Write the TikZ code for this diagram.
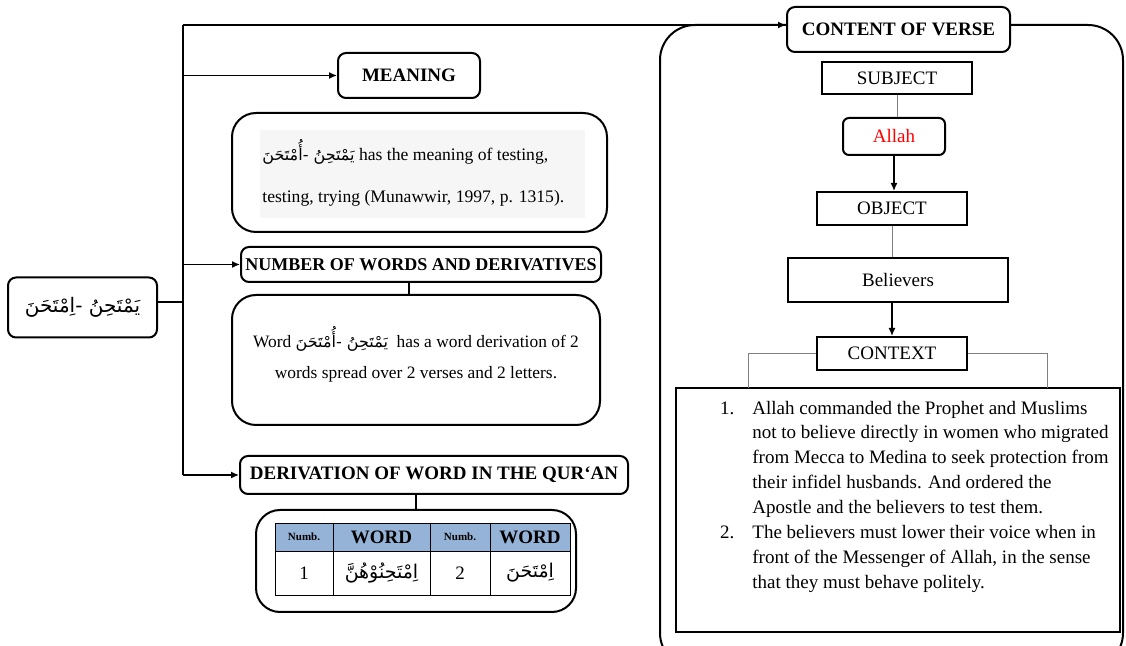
\documentclass[tikz,border=0pt]{standalone}
\usepackage{fontspec}
\setmainfont{Liberation Serif}
\newfontfamily\arabicfont[Script=Arabic]{DejaVu Sans}
\TeXXeTstate=1
\newcommand{\arw}[1]{{\arabicfont\beginR #1\endR}}
\usetikzlibrary{arrows.meta, positioning, calc}

\begin{document}
\begin{tikzpicture}[x=0.5pt, y=-0.5pt,
        every node/.style={align=center, inner sep=0pt, font=\fontsize{9.5}{12}\selectfont},
        headbox/.style={draw, line width=1pt, rounded corners=4pt, fill=white, font=\fontsize{9.5}{12}\selectfont\bfseries},
        bigbox/.style={draw, line width=1pt, rounded corners=12pt},
        plainbox/.style={draw, line width=1pt, fill=white},
        cell/.style={draw, line width=0.4pt},
        conn/.style={-{Latex[length=4pt,width=3.5pt]}, line width=0.7pt},
        grayline/.style={draw=gray, line width=0.5pt}
    ]
        \useasboundingbox (0,0) rectangle (1126,646);

        % left side
        \node[draw, line width=1pt, rounded corners=4pt, minimum width=74.5pt, minimum height=30pt] (root) at (82.5,307.5) {\fontsize{10}{12}\selectfont\arw{يَمْتَحِنُ -اِمْتَحَنَ}};
        \coordinate (ttop) at (183,25);
        \coordinate (tbot) at (183,475);
        \coordinate (tmid) at (183,302);
        \draw[line width=0.7pt] (ttop) -- (tbot);
        \draw[line width=0.7pt] (root.east |- tmid) -- (tmid);

        \node[headbox, minimum width=71pt, minimum height=22.5pt] (meaning) at (409,75.5) {MEANING};
        \node[bigbox, minimum width=187.5pt, minimum height=59.5pt] (meaningbox) at (419.5,172.5) {};
        \fill[gray!7] (260,130) rectangle (585,218);
        \node[anchor=base west, align=left, font=\fontsize{8.8}{21}\selectfont] (meaningtxt) at (262,203)
            {{\fontsize{8}{10}\selectfont\arw{يَمْتَحِنُ -أُمْتَحَنَ}} has the meaning of testing,\\testing, trying (Munawwir, 1997, p. 1315).};

        \node[headbox, minimum width=180pt, minimum height=17.5pt, font=\fontsize{9}{10}\selectfont\bfseries] (number) at (421,264.5) {NUMBER OF WORDS AND DERIVATIVES};
        \node[bigbox, minimum width=184pt, minimum height=65pt] (numberbox) at (416,360) {};
        \node[anchor=base, font=\fontsize{8.7}{15.5}\selectfont] (numbertxt) at (416,379)
            {Word {\fontsize{8}{10}\selectfont\arw{يَمْتَحِنُ -أُمْتَحَنَ}}\ \ has a word derivation of 2\\words spread over 2 verses and 2 letters.};
        \draw[line width=0.7pt] (number.south -| 409,0) -- (numberbox.north -| 409,0);

        \node[headbox, minimum width=194pt, minimum height=19pt] (derivation) at (434,475) {DERIVATION OF WORD IN THE QUR`AN};
        \node[bigbox, minimum width=160pt, minimum height=51pt] (tablebox) at (416,561) {};
        \draw[line width=0.7pt] (tablebox.north |- derivation.south) -- (tablebox.north);

        % table
        \node[cell, fill={rgb,255:red,149;green,179;blue,215}, minimum width=29pt, minimum height=14pt, font=\fontsize{5.5}{6}\selectfont\bfseries] (h1) at (304,537) {Numb.};
        \node[cell, fill={rgb,255:red,149;green,179;blue,215}, minimum width=48.5pt, minimum height=14pt, font=\fontsize{9.5}{11}\selectfont\bfseries] (h2) at (381.5,537) {WORD};
        \node[cell, fill={rgb,255:red,149;green,179;blue,215}, minimum width=30pt, minimum height=14pt, font=\fontsize{5.5}{6}\selectfont\bfseries] (h3) at (460,537) {Numb.};
        \node[cell, fill={rgb,255:red,149;green,179;blue,215}, minimum width=40pt, minimum height=14pt, font=\fontsize{9.5}{11}\selectfont\bfseries] (h4) at (530,537) {WORD};
        \node[cell, minimum width=29pt, minimum height=22pt] (c1) at (304,573) {1};
        \node[cell, minimum width=48.5pt, minimum height=22pt] (c2) at (381.5,573) {\arw{اِمْتَحِنُوْهُنَّ}};
        \node[cell, minimum width=30pt, minimum height=22pt] (c3) at (460,573) {2};
        \node[cell, minimum width=40pt, minimum height=22pt] (c4) at (530,573) {\arw{اِمْتَحَنَ}};

        \draw[conn] (meaning.west -| ttop) -- (meaning.west);
        \draw[conn] (number.west -| ttop) -- (number.west);
        \draw[conn] (tbot) -- (derivation.west);

        % right side
        \draw[line width=1pt, rounded corners=17.5pt] (660,25) rectangle (1123,668);
        \node[headbox, minimum width=111.5pt, minimum height=22.5pt] (verse) at (898.5,29.5) {CONTENT OF VERSE};
        \draw[conn] (ttop) -- (ttop -| verse.west);

        \node[plainbox, minimum width=75pt, minimum height=16pt] (subject) at (897,78) {SUBJECT};
        \node[draw, line width=1pt, rounded corners=3pt, minimum width=51pt, minimum height=18.5pt, text=red] (allah) at (894,136.5) {Allah};
        \node[plainbox, minimum width=75pt, minimum height=16.5pt] (object) at (892,208.5) {OBJECT};
        \node[plainbox, minimum width=110pt, minimum height=22pt] (believers) at (898,280) {Believers};
        \node[plainbox, minimum width=75pt, minimum height=16.5pt] (context) at (892,353.5) {CONTEXT};
        \node[plainbox, minimum width=222pt, minimum height=122pt] (listbox) at (898,510) {};

        \draw[grayline] (subject.south) -- (subject.south |- allah.north);
        \draw[conn] (allah.south) -- (allah.south |- object.north);
        \draw[grayline] (object.south) -- (object.south |- believers.north);
        \draw[conn] (context.north |- believers.south) -- (context.north);
        \coordinate (cl) at (748,388);
        \coordinate (cr) at (1047,388);
        \draw[grayline] (context.west) -| (cl);
        \draw[grayline] (context.east) -| (cr);

        \node[anchor=base west, align=left, font=\fontsize{9.5}{12.5}\selectfont] (listtxt) at (752,589)
            {\llap{1.\hspace{9pt}}Allah commanded the Prophet and Muslims\\
             not to believe directly in women who migrated\\
             from Mecca to Medina to seek protection from\\
             their infidel husbands. And ordered the\\
             Apostle and the believers to test them.\\
             \llap{2.\hspace{9pt}}The believers must lower their voice when in\\
             front of the Messenger of Allah, in the sense\\
             that they must behave politely.};
    \end{tikzpicture}
\end{document}
